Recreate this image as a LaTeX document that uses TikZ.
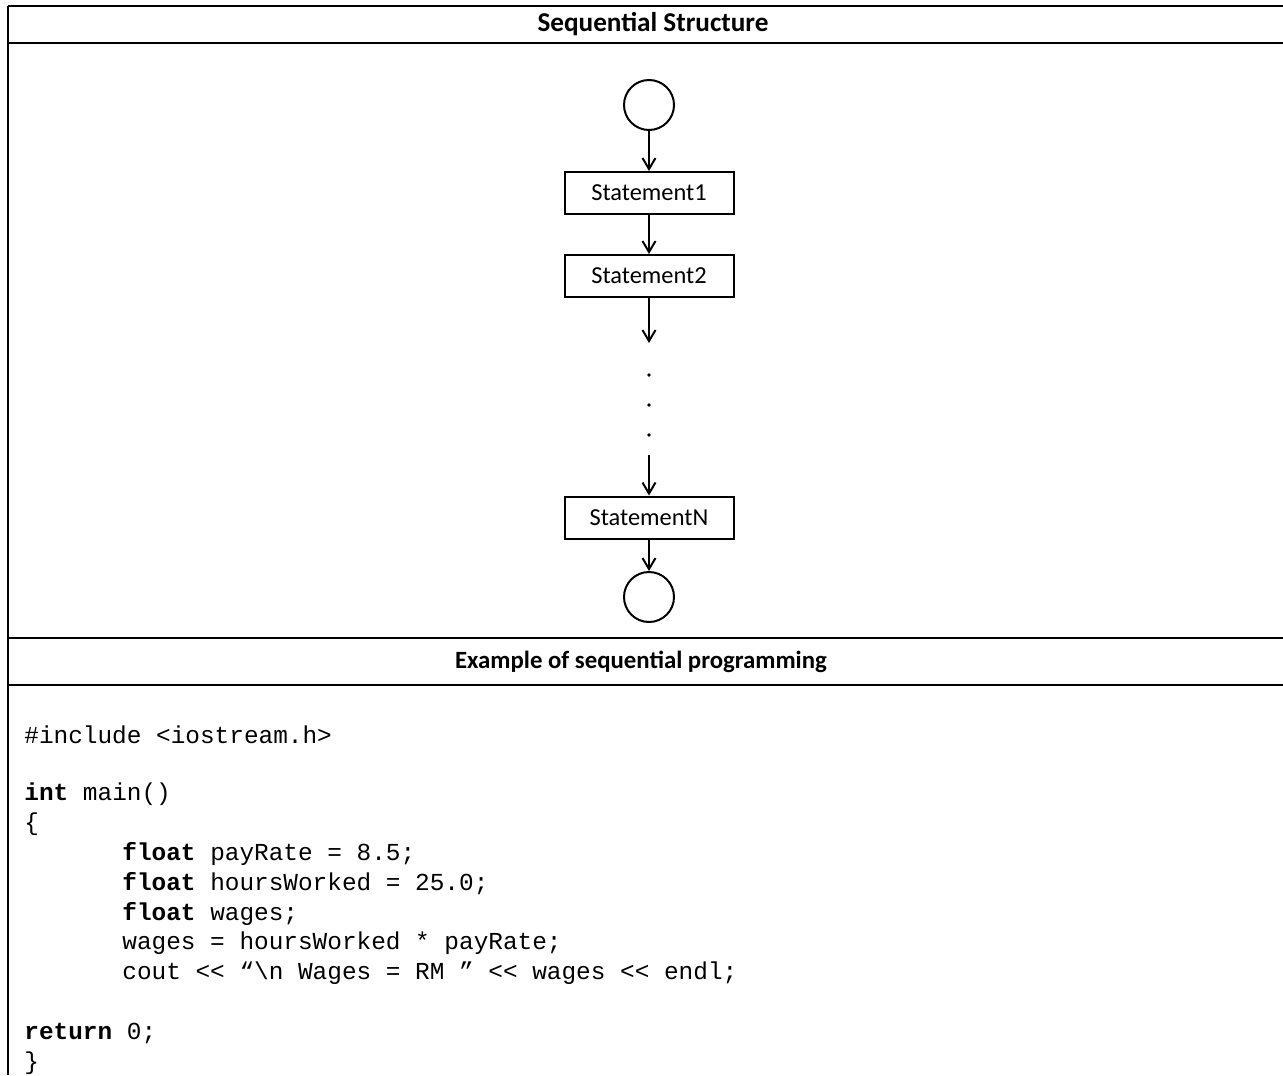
\documentclass[tikz,border=0pt]{standalone}
\usepackage{fontspec}
\setmainfont{Carlito}
\setmonofont{Liberation Mono}
\usetikzlibrary{arrows.meta}
\begin{document}
\begin{tikzpicture}[x=0.5pt,y=-0.5pt,
  border/.style={line width=1.1pt},
  stmt/.style={draw,line width=1pt,minimum width=84.5pt,minimum height=21pt,inner sep=0pt,font=\fontsize{12.2}{14}\selectfont},
  term/.style={draw,circle,line width=1pt,minimum size=25pt,inner sep=0pt},
  arr/.style={line width=1pt,-{Straight Barb[length=5.5pt,width=6.5pt]}},
  dotn/.style={circle,fill,inner sep=0pt,minimum size=1.8pt},
  head/.style={inner sep=0pt,font=\fontsize{12.4}{14}\selectfont\bfseries},
  code/.style={anchor=west,inner sep=0pt,font=\fontsize{12.2}{14}\selectfont\ttfamily}]
\useasboundingbox (0,0) rectangle (1283,1075);
% table borders
\draw[border] (8,6) -- (1283,6);
\draw[border] (8,43) -- (1283,43);
\draw[border] (8,638) -- (1283,638);
\draw[border] (8,685) -- (1283,685);
\draw[border] (8,6) -- (8,1075);
% headings
\node[head,font=\fontsize{13.6}{15}\selectfont\bfseries] (h1) at (653,24.5) {Sequential Structure};
\node[head] (h2) at (641,661.5) {Example of sequential programming};
% flowchart
\node[term] (start) at (649,105) {};
\node[stmt] (s1) at (649,193) {Statement1};
\node[stmt] (s2) at (649,276) {Statement2};
\coordinate (a1) at (649,343);
\node[dotn] (d1) at (649,375) {};
\node[dotn] (d2) at (649,405) {};
\node[dotn] (d3) at (649,435) {};
\coordinate (a2) at (649,455);
\node[stmt] (sn) at (649,517.5) {StatementN};
\node[term] (end) at (649,597) {};
\draw[arr] (start) -- (s1);
\draw[arr] (s1) -- (s2);
\draw[arr] (s2) -- (a1);
\draw[arr] (a2) -- (sn);
\draw[arr] (sn) -- (end);
% code
\node[code] (c1) at (24,735) {\#include <iostream.h>};
\node[code] (c2) at (24,794.6) {\textbf{int} main()};
\node[code] (c3) at (24,824.4) {\{};
\node[code] (c4) at (122,854.2) {\textbf{float} payRate = 8.5;};
\node[code] (c5) at (122,884) {\textbf{float} hoursWorked = 25.0;};
\node[code] (c6) at (122,913.8) {\textbf{float} wages;};
\node[code] (c7) at (122,943.6) {wages = hoursWorked * payRate;};
\node[code] (c8) at (122,973.4) {cout <{}< “\textbackslash n Wages = RM ” <{}< wages <{}< endl;};
\node[code] (c9) at (24,1033) {\textbf{return} 0;};
\node[code] (c10) at (24,1062.8) {\}};
\end{tikzpicture}
\end{document}
